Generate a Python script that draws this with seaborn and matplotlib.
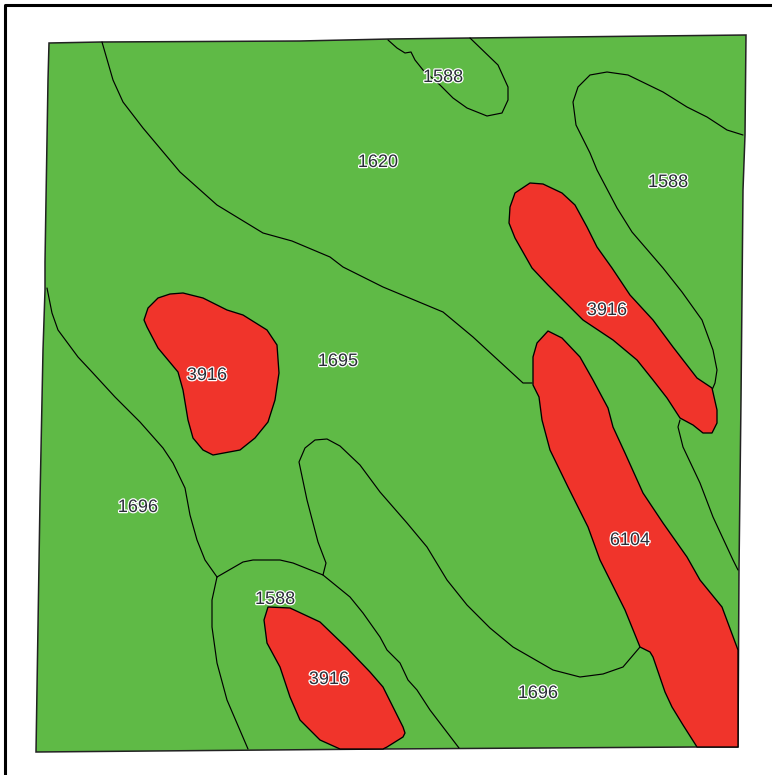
import matplotlib
matplotlib.use("Agg")
import matplotlib.pyplot as plt
import matplotlib.patheffects as pe
import pandas as pd
import seaborn as sns

GREEN = "#5FBA46"
RED = "#F0342B"

outline = [(49,43),(101,42),(300,41),(390,39),(470,38),(746,35),(745,135),(743,190),(741,400),(739,570),(738,747),(697,747),(385,749),(36,752),(40,500),(43,350),(45,290),(45,262),(46,200),(48,80)]

red_left = [(144,320),(148,308),(158,298),(170,294),(183,293),(203,298),(227,310),(243,315),(267,330),(277,345),(279,373),(275,400),(268,422),(255,438),(240,450),(213,455),(203,450),(193,438),(188,420),(183,390),(178,372),(158,348),(147,327)]
red_upper = [(510,207),(515,193),(530,183),(543,184),(562,193),(575,205),(587,227),(597,247),(612,268),(630,295),(653,320),(673,347),(697,378),(712,388),(717,410),(717,423),(712,433),(703,433),(693,425),(680,418),(667,398),(653,380),(637,360),(613,340),(583,320),(565,302),(548,285),(532,268),(515,238),(509,223)]
red_long = [(548,331),(562,338),(580,357),(593,380),(608,408),(613,427),(625,453),(643,493),(663,523),(687,557),(700,580),(722,607),(738,650),(738,747),(697,747),(683,725),(672,707),(665,692),(653,657),(650,652),(640,647),(625,610),(600,560),(588,527),(568,487),(550,450),(542,420),(539,397),(533,385),(533,357),(537,343)]
red_lower = [(268,607),(290,608),(320,622),(347,648),(370,672),(383,687),(403,727),(405,733),(403,737),(387,747),(383,749),(340,749),(320,740),(300,720),(290,697),(280,667),(267,643),(264,620)]
red_patches = [red_left, red_upper, red_long, red_lower]

line_topleft = [(102,42),(113,80),(123,102),(143,128),(180,172),(217,205),(263,233),(292,241),(330,257),(343,267),(383,287),(443,312),(473,337),(523,383),(532,383)]
line_toplobe = [(388,40),(397,48),(405,53),(411,52),(415,60),(423,70),(440,85),(453,98),(467,108),(487,116),(502,113),(508,100),(508,87),(498,65),(470,38)]
line_rightlobe = [(743,135),(727,130),(707,117),(687,107),(663,92),(628,75),(607,72),(590,75),(578,87),(573,102),(576,125),(590,153),(597,170),(617,208),(632,232),(663,268),(682,292),(702,320),(713,350),(717,370),(715,383),(712,390)]
line_rightlow = [(680,420),(678,427),(683,447),(700,483),(713,517),(733,560),(738,570)]
line_left = [(47,288),(52,313),(58,330),(78,357),(92,372),(115,397),(140,422),(163,448),(173,463),(185,488),(190,515),(197,540),(205,560),(217,577)]
line_arc = [(217,577),(243,562),(253,560),(280,560),(293,563),(318,573),(323,575),(326,563),(318,542),(307,500),(299,462),(305,448),(315,440),(327,439),(340,446),(360,465),(380,492),(407,523),(427,547),(447,580),(467,605),(490,628),(513,647),(553,670),(580,677),(603,674),(623,667),(640,647)]
line_lowleft = [(217,577),(212,600),(212,627),(217,663),(227,700),(248,749)]
line_lowmid = [(323,575),(350,597),(363,613),(380,637),(387,650),(400,663),(408,680),(417,690),(430,710),(459,748)]
contours = [line_topleft, line_toplobe, line_rightlobe, line_rightlow, line_left, line_arc, line_lowleft, line_lowmid]

label_text = ["1588","1620","1588","3916","3916","1695","1696","6104","1588","3916","1696"]
label_x = [443,378,668,607,207,338,138,630,275,329,538]
label_y = [76,161,181,309,374,360,506,539,598,678,692]

sns.set_style("white")
fig = plt.figure(figsize=(7.72, 7.75), dpi=100)
ax = fig.add_axes([0, 0, 1, 1])
ax.set_xlim(0, 772)
ax.set_ylim(775, 0)
ax.axis("off")

# map frame running off the canvas to the right and bottom
ax.plot([5, 5, 772], [775, 5, 5], color="black", lw=2.2, solid_joinstyle="round")

ax.fill(*zip(*outline), facecolor=GREEN, edgecolor="#222222", lw=1.1, zorder=1)
for poly in red_patches:
    ax.fill(*zip(*poly), facecolor=RED, edgecolor="black", lw=0.95, zorder=3, joinstyle="round")

rows = [(i, x, y) for i, c in enumerate(contours) for x, y in c]
df = pd.DataFrame(rows, columns=["id", "x", "y"])
sns.lineplot(data=df, x="x", y="y", units="id", estimator=None, sort=False,
             color="black", lw=0.85, ax=ax, zorder=2, legend=False)
ax.set_xlim(0, 772)
ax.set_ylim(775, 0)
ax.axis("off")

for t, x, y in zip(label_text, label_x, label_y):
    ax.text(x, y + 1.5, t, ha="center", va="center", fontsize=13, family="Liberation Sans",
            color="#2a2e38", zorder=5,
            path_effects=[pe.withStroke(linewidth=1.8, foreground="white")])

fig.savefig("out.png", dpi=100)
